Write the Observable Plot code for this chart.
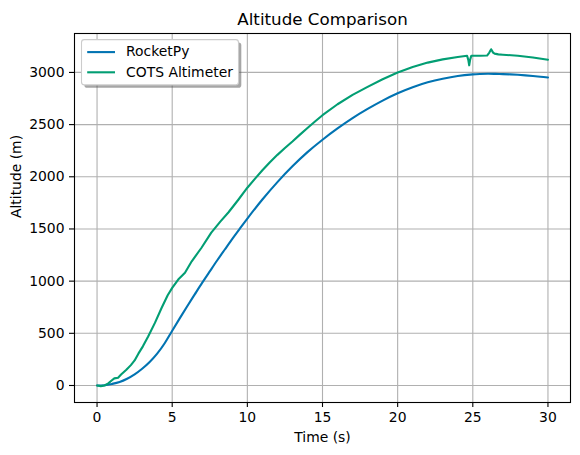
<!DOCTYPE html>
<html>
<head>
<meta charset="utf-8">
<script src="https://cdn.jsdelivr.net/npm/d3@7"></script>
<script src="https://cdn.jsdelivr.net/npm/@observablehq/plot@0.6"></script>
<style>
  html, body { margin: 0; padding: 0; background: #fff; }
  #chart svg { display: block; }
</style>
</head>
<body>
<div id="chart"></div>
<script>
// Series names and their line colours
const seriesNames = ["RocketPy", "COTS Altimeter"];
const seriesColors = ["#0173B2", "#029E73"];

// RocketPy simulated trajectory (time in s, altitude in m)
const rocketpyTime = [0, 0.5, 1, 1.5, 2, 2.5, 3, 3.5, 4, 4.5, 5, 5.5, 6, 6.5, 7, 7.5, 8, 8.5, 9, 9.5, 10,
  11, 12, 13, 14, 15, 16, 17, 18, 19, 20, 21, 22, 23, 24, 25,
  25.5, 26, 26.5, 27, 27.5, 28, 28.5, 29, 29.5, 30];
const rocketpyAltitude = [0, 3, 15, 33, 64, 106, 160, 225, 305, 405, 525, 643, 760, 873, 985, 1093, 1200, 1303, 1405, 1503, 1600,
  1782, 1949, 2100, 2236, 2355, 2463, 2562, 2650, 2730, 2800, 2858, 2905, 2940, 2966, 2981,
  2985, 2987, 2986, 2984, 2981, 2977, 2972, 2966, 2959, 2952];

// COTS altimeter flight log (time in s, altitude in m)
const cotsTime = [0, 0.25, 0.5, 0.75, 0.95, 1.15, 1.4, 1.6, 1.95, 2.25, 2.5, 2.75, 3.05, 3.4, 3.85,
  4.3, 4.7, 5.0, 5.4, 5.85, 6.3, 6.95, 7.6, 8.2, 8.75, 9.4, 10, 10.5, 11, 11.5,
  12, 12.5, 13, 13.5, 14, 14.5, 15, 16, 17, 18, 19, 20, 21, 22, 23,
  24, 24.62, 24.7, 24.76, 24.82, 24.9, 25.5, 25.95, 26.1, 26.22, 26.35, 26.45, 26.7, 27, 28,
  29, 30];
const cotsAltitude = [0, -6, 0, 20, 45, 68, 75, 105, 150, 195, 240, 305, 375, 470, 600,
  745, 865, 935, 1015, 1080, 1190, 1320, 1465, 1570, 1660, 1780, 1895, 1980, 2062, 2140,
  2210, 2275, 2338, 2404, 2468, 2530, 2590, 2695, 2785, 2862, 2935, 3000, 3052, 3094, 3125,
  3147, 3160, 3120, 3068, 3120, 3160, 3160, 3162, 3190, 3222, 3190, 3180, 3173, 3170, 3160,
  3143, 3122];

// Axis ticks and text
const xTicks = [0, 5, 10, 15, 20, 25, 30];
const yTicks = [0, 500, 1000, 1500, 2000, 2500, 3000];
const titleText = "Altitude Comparison";
const xLabel = "Time (s)";
const yLabel = "Altitude (m)";

const rocketpyRows = rocketpyTime.map((t, i) => ({series: seriesNames[0], time: t, altitude: rocketpyAltitude[i]}));
const cotsRows = cotsTime.map((t, i) => ({series: seriesNames[1], time: t, altitude: cotsAltitude[i]}));

const FONT = "DejaVu Sans, sans-serif";

// Boxed legend with drop shadow in the upper-left corner of the frame
function legendBox(index, scales, values, dimensions) {
  const {marginLeft, marginTop} = dimensions;
  const x0 = marginLeft + 7.5, y0 = marginTop + 6.6, w = 157, h = 45.3;
  const g = d3.create("svg:g")
    .attr("font-family", FONT)
    .attr("font-size", 13.9)
    .attr("text-anchor", "start");
  g.append("rect")
    .attr("x", x0 + 2.8).attr("y", y0 + 2.8).attr("width", w).attr("height", h)
    .attr("rx", 2.8).attr("fill", "#4d4d4d").attr("fill-opacity", 0.5);
  g.append("rect")
    .attr("x", x0).attr("y", y0).attr("width", w).attr("height", h)
    .attr("rx", 2.8).attr("fill", "#fff").attr("stroke", "#cccccc").attr("stroke-width", 1.1);
  seriesNames.forEach((name, i) => {
    const ly = y0 + 12.5 + i * 20.2;
    g.append("line")
      .attr("x1", x0 + 5.7).attr("x2", x0 + 33.5).attr("y1", ly).attr("y2", ly)
      .attr("stroke", scales.color(name)).attr("stroke-width", 2.1);
    g.append("text")
      .attr("x", x0 + 44.6).attr("y", ly + 4.3)
      .attr("text-anchor", "start")
      .attr("fill", "#000").text(name);
  });
  return g.node();
}

const lineStyle = {x: "time", y: "altitude", stroke: "series", strokeWidth: 2.1, strokeLinejoin: "round"};
const gridStyle = {stroke: "#b0b0b0", strokeOpacity: 1, strokeWidth: 1.1};

const chart = Plot.plot({
  width: 580,
  height: 455,
  marginLeft: 74,
  marginRight: 10,
  marginTop: 33,
  marginBottom: 53,
  style: {fontFamily: FONT, fontSize: "13.9px", color: "#000", background: "#fff", overflow: "visible"},
  x: {domain: [-1.5, 31.5]},
  y: {domain: [-163, 3373]},
  color: {domain: seriesNames, range: seriesColors},
  marks: [
    Plot.gridX(xTicks, gridStyle),
    Plot.gridY(yTicks, gridStyle),
    Plot.line(rocketpyRows, {...lineStyle, curve: "catmull-rom"}),
    Plot.line(cotsRows, {...lineStyle, curve: "linear"}),
    Plot.frame({stroke: "#000", strokeWidth: 1.1}),
    Plot.axisX(xTicks, {tickSize: 5, tickPadding: 5, strokeWidth: 1.1, label: null, tickFormat: (d) => `${d}`}),
    Plot.axisY(yTicks, {tickSize: 5, tickPadding: 5, strokeWidth: 1.1, label: null, tickFormat: (d) => `${d}`}),
    Plot.text([titleText], {frameAnchor: "top", lineAnchor: "bottom", dy: -8.6, fontSize: 16.7, text: (d) => d}),
    Plot.text([xLabel], {frameAnchor: "bottom", lineAnchor: "bottom", dy: 39.2, text: (d) => d}),
    Plot.text([yLabel], {frameAnchor: "left", lineAnchor: "bottom", rotate: -90, dx: -53.8, text: (d) => d}),
    legendBox
  ]
});

document.getElementById("chart").appendChild(chart);
</script>
</body>
</html>
